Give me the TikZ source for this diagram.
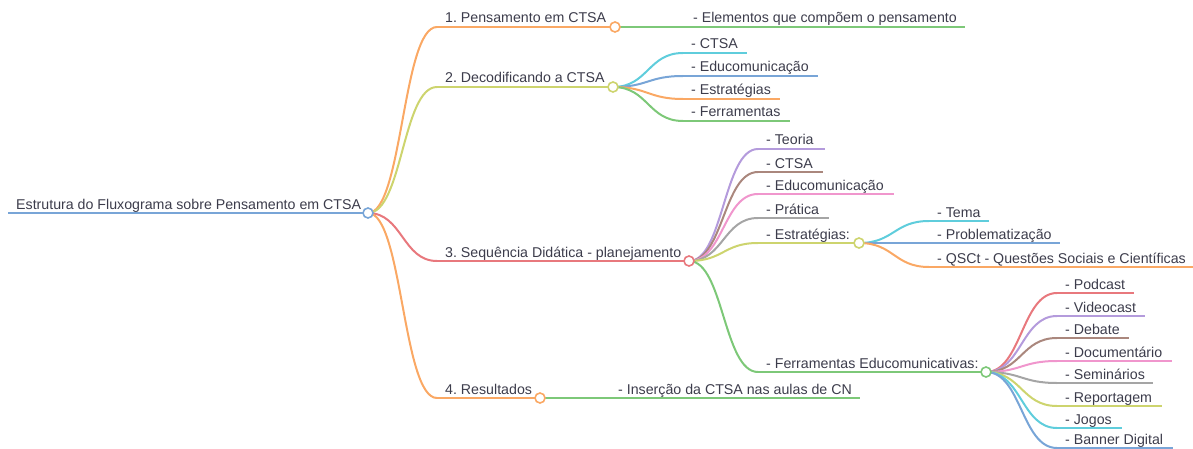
\documentclass[tikz,border=0pt]{standalone}
\usepackage{fontspec}
\setmainfont{Liberation Sans}
\usetikzlibrary{calc}
\frenchspacing
\definecolor{corange}{RGB}{250,168,100}
\definecolor{colive}{RGB}{205,212,110}
\definecolor{cred}{RGB}{232,120,125}
\definecolor{cgreen}{RGB}{125,200,120}
\definecolor{ccyan}{RGB}{95,205,220}
\definecolor{cblue}{RGB}{120,165,215}
\definecolor{cpurple}{RGB}{180,155,220}
\definecolor{cbrown}{RGB}{170,135,125}
\definecolor{cpink}{RGB}{240,150,205}
\definecolor{cgray}{RGB}{165,165,165}
\definecolor{ctext}{RGB}{60,60,75}
\tikzset{
  lbl/.style={font=\fontsize{14.2}{16}\selectfont, text=ctext, anchor=base west, inner sep=0pt},
  ul/.style={line width=2pt},
  lnk/.style={line width=2pt, to path={let \p1=(\tikztostart), \p2=(\tikztotarget) in
     .. controls ({(\x1+\x2)/2},\y1) and ({(\x1+\x2)/2},\y2) .. (\tikztotarget)}},
  dot/.style={circle, fill=white, line width=1.6pt, minimum size=10pt, inner sep=0pt}
}
\newcommand{\mmitem}[6]{%
  \coordinate (#1-s) at (#3,#5);
  \coordinate (#1-e) at (#4,#5);
  \draw[ul,#2] (#1-s) -- (#1-e);
  \node[lbl] (#1) at ([xshift=8pt,yshift=4pt]#1-s) {#6};
}
\begin{document}
\begin{tikzpicture}[x=1pt,y=-1pt]
\useasboundingbox (0,0) rectangle (1193,449);
% items
\mmitem{root}{cblue}{8}{368}{213}{Estrutura do Fluxograma sobre Pensamento em CTSA}
\mmitem{b1}{corange}{437}{615}{27}{1. Pensamento em CTSA}
\mmitem{b1a}{cgreen}{685}{965}{27}{- Elementos que compõem o pensamento}
\mmitem{b2}{colive}{437}{613}{87}{2. Decodificando a CTSA}
\mmitem{b2a}{ccyan}{683}{747}{53}{- CTSA}
\mmitem{b2b}{cblue}{683}{818}{76}{- Educomunicação}
\mmitem{b2c}{corange}{683}{780}{99}{- Estratégias}
\mmitem{b2d}{cgreen}{683}{790}{121}{- Ferramentas}
\mmitem{b3}{cred}{437}{689}{261}{3. Sequência Didática - planejamento}
\mmitem{b3a}{cpurple}{758}{825}{149}{- Teoria}
\mmitem{b3b}{cbrown}{758}{823}{172}{- CTSA}
\mmitem{b3c}{cpink}{758}{894}{194}{- Educomunicação}
\mmitem{b3d}{cgray}{758}{829}{218}{- Prática}
\mmitem{b3e}{colive}{758}{859}{243}{- Estratégias:}
\mmitem{b3ea}{ccyan}{929}{989}{221}{- Tema}
\mmitem{b3eb}{cblue}{929}{1060}{243}{- Problematização}
\mmitem{b3ec}{corange}{929}{1193}{267}{- QSCt - Questões Sociais e Científicas}
\mmitem{b3f}{cgreen}{758}{986}{372}{- Ferramentas Educomunicativas:}
\mmitem{f1}{cred}{1057}{1134}{293}{- Podcast}
\mmitem{f2}{cpurple}{1057}{1145}{316}{- Videocast}
\mmitem{f3}{cbrown}{1057}{1129}{338}{- Debate}
\mmitem{f4}{cpink}{1057}{1172}{361}{- Documentário}
\mmitem{f5}{cgray}{1057}{1153}{383}{- Seminários}
\mmitem{f6}{colive}{1057}{1162}{406}{- Reportagem}
\mmitem{f7}{ccyan}{1057}{1122}{428}{- Jogos}
\mmitem{f8}{cblue}{1057}{1173}{448}{- Banner Digital}
\mmitem{b4}{corange}{437}{540}{398}{4. Resultados}
\mmitem{b4a}{cgreen}{610}{860}{398}{- Inserção da CTSA nas aulas de CN}
% links
\draw[lnk,corange] (root-e) to (b1-s);
\draw[lnk,colive] (root-e) to (b2-s);
\draw[lnk,cred] (root-e) to (b3-s);
\draw[lnk,corange] (root-e) to (b4-s);
\draw[lnk,cgreen] (b1-e) to (b1a-s);
\draw[lnk,ccyan] (b2-e) to (b2a-s);
\draw[lnk,cblue] (b2-e) to (b2b-s);
\draw[lnk,corange] (b2-e) to (b2c-s);
\draw[lnk,cgreen] (b2-e) to (b2d-s);
\draw[lnk,cpurple] (b3-e) to (b3a-s);
\draw[lnk,cbrown] (b3-e) to (b3b-s);
\draw[lnk,cpink] (b3-e) to (b3c-s);
\draw[lnk,cgray] (b3-e) to (b3d-s);
\draw[lnk,colive] (b3-e) to (b3e-s);
\draw[lnk,cgreen] (b3-e) to (b3f-s);
\draw[lnk,ccyan] (b3e-e) to (b3ea-s);
\draw[lnk,cblue] (b3e-e) to (b3eb-s);
\draw[lnk,corange] (b3e-e) to (b3ec-s);
\draw[lnk,cred] (b3f-e) to (f1-s);
\draw[lnk,cpurple] (b3f-e) to (f2-s);
\draw[lnk,cbrown] (b3f-e) to (f3-s);
\draw[lnk,cpink] (b3f-e) to (f4-s);
\draw[lnk,cgray] (b3f-e) to (f5-s);
\draw[lnk,colive] (b3f-e) to (f6-s);
\draw[lnk,ccyan] (b3f-e) to (f7-s);
\draw[lnk,cblue] (b3f-e) to (f8-s);
\draw[lnk,cgreen] (b4-e) to (b4a-s);
% circles
\node[dot,draw=cblue] (root-c) at (root-e) {};
\node[dot,draw=corange] (b1-c) at (b1-e) {};
\node[dot,draw=colive] (b2-c) at (b2-e) {};
\node[dot,draw=cred] (b3-c) at (b3-e) {};
\node[dot,draw=corange] (b4-c) at (b4-e) {};
\node[dot,draw=colive] (b3e-c) at (b3e-e) {};
\node[dot,draw=cgreen] (b3f-c) at (b3f-e) {};
\end{tikzpicture}
\end{document}
